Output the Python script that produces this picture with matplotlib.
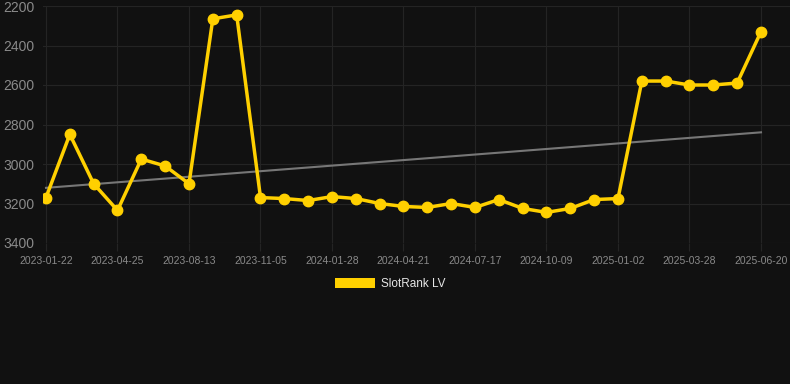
import matplotlib.pyplot as plt
from matplotlib.patches import Patch
import numpy as np

# rank values, one per observation (lower is better, axis inverted)
rank = [3170, 2850, 3100, 3235, 2975, 3010, 3100, 2265, 2245, 3170,
        3175, 3185, 3165, 3175, 3200, 3215, 3220, 3200, 3220, 3180,
        3225, 3245, 3225, 3180, 3175, 2580, 2580, 2600, 2600, 2590,
        2330]
tick_labels = ['2023-01-22', '2023-04-25', '2023-08-13', '2023-11-05', '2024-01-28',
               '2024-04-21', '2024-07-17', '2024-10-09', '2025-01-02', '2025-03-28',
               '2025-06-20']

bg = '#111111'
gold = '#FFD000'
plt.rcParams['font.family'] = ['Liberation Sans', 'DejaVu Sans']

fig = plt.figure(figsize=(7.9, 3.84), dpi=100, facecolor=bg)
ax = fig.add_axes([43 / 790, 1 - 243 / 384, 747 / 790, 237 / 384])
ax.set_facecolor(bg)

x = np.arange(len(rank))
ax.plot(x, rank, color=gold, lw=2.5, marker='o', markersize=7.5, zorder=3)

# linear trend
k, b = np.polyfit(x, rank, 1)
ax.plot(x, k * x + b, color='#777777', lw=1.5, zorder=2)

ax.set_ylim(3400, 2200)
ax.set_xlim(-3 / 23.83, 30 + 29 / 23.83)
ax.set_yticks([2200, 2400, 2600, 2800, 3000, 3200, 3400])
ax.set_xticks(x[::3])
ax.set_xticklabels(tick_labels)

ax.grid(True, color='#242424', lw=0.8)
ax.set_axisbelow(True)
for s in ax.spines.values():
    s.set_visible(False)
ax.tick_params(axis='x', colors='#242424', labelcolor='#8a8a8a', labelsize=7.5, length=6, pad=3)
ax.tick_params(axis='y', length=0, labelcolor='#8a8a8a', labelsize=10, pad=6)

leg = fig.legend(handles=[Patch(facecolor=gold, label='SlotRank LV')], loc='center',
                 bbox_to_anchor=(0.5 - 5 / 790, 1 - 284 / 384), frameon=False, fontsize=8.5,
                 handlelength=3.4, handleheight=1.0, handletextpad=0.5,
                 labelcolor='#e6e6e6')

fig.savefig('out.png', dpi=100, facecolor=bg)
